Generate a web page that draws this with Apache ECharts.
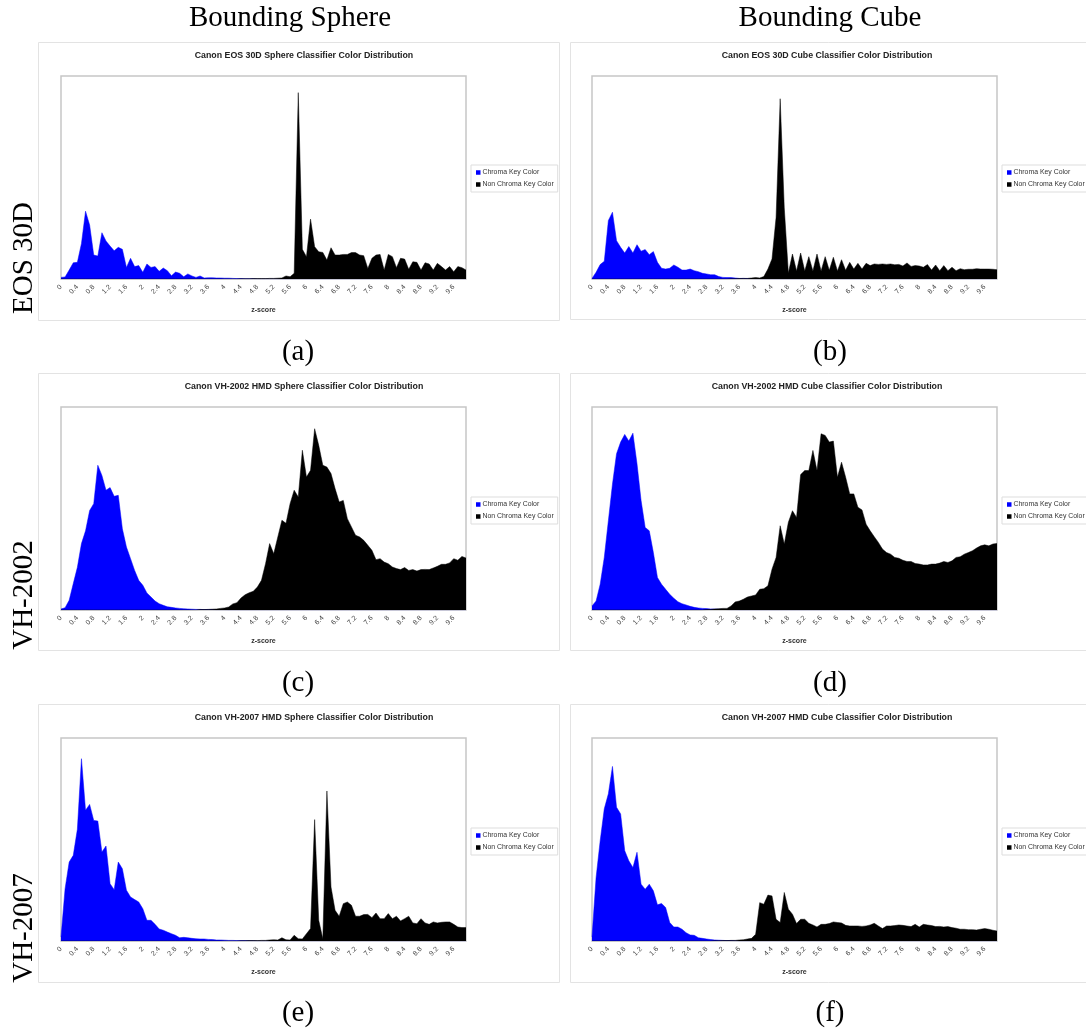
<!DOCTYPE html>
<html><head><meta charset="utf-8">
<script src="https://cdn.jsdelivr.net/npm/echarts@6/dist/echarts.min.js"></script>
<style>html,body{margin:0;padding:0;background:#fff}#c{width:1086px;height:1032px}</style>
</head><body><div id="c"></div>
<script>
const categories = [
'0','0.1','0.2','0.3','0.4','0.5','0.6','0.7','0.8','0.9',
'1','1.1','1.2','1.3','1.4','1.5','1.6','1.7','1.8','1.9',
'2','2.1','2.2','2.3','2.4','2.5','2.6','2.7','2.8','2.9',
'3','3.1','3.2','3.3','3.4','3.5','3.6','3.7','3.8','3.9',
'4','4.1','4.2','4.3','4.4','4.5','4.6','4.7','4.8','4.9',
'5','5.1','5.2','5.3','5.4','5.5','5.6','5.7','5.8','5.9',
'6','6.1','6.2','6.3','6.4','6.5','6.6','6.7','6.8','6.9',
'7','7.1','7.2','7.3','7.4','7.5','7.6','7.7','7.8','7.9',
'8','8.1','8.2','8.3','8.4','8.5','8.6','8.7','8.8','8.9',
'9','9.1','9.2','9.3','9.4','9.5','9.6','9.7','9.8','9.9'];
const tickLabels = ['0','0.4','0.8','1.2','1.6','2','2.4','2.8','3.2','3.6','4','4.4','4.8','5.2','5.6','6','6.4','6.8','7.2','7.6','8','8.4','8.8','9.2','9.6'];
const seriesNames = ['Chroma Key Color','Non Chroma Key Color'];
const panelTitles = [
'Canon EOS 30D Sphere Classifier Color Distribution',
'Canon EOS 30D Cube Classifier Color Distribution',
'Canon VH-2002 HMD Sphere Classifier Color Distribution',
'Canon VH-2002 HMD Cube Classifier Color Distribution',
'Canon VH-2007 HMD Sphere Classifier Color Distribution',
'Canon VH-2007 HMD Cube Classifier Color Distribution'];
const columnHeaders = ['Bounding Sphere','Bounding Cube'];
const rowLabels = ['EOS 30D','VH-2002','VH-2007'];
const captions = ['(a)','(b)','(c)','(d)','(e)','(f)'];
const axisName = 'z-score';

// values: share of plot height (%)
const eosSphereChroma = [
0.8,1,4.4,8,8.2,17.5,33.4,26.6,11.8,11.3,
22.8,18.7,16.2,13.9,15.6,14.6,5.7,10.2,6.1,6.6,
3.3,7.4,5.7,6.1,3.8,5.4,4.1,1.6,3.4,2.8,
1.1,2.5,1.5,0.8,1.5,0.5,0.6,0.6,0.5,0.5,
0.4,0.4,0.3,0.2,0.2,0.1,0.1,0.1,0,0,
0,0,0,0,0,0,0,0,0,0,
0,0,0,0,0,0,0,0,0,0,
0,0,0,0,0,0,0,0,0,0,
0,0,0,0,0,0,0,0,0,0,
0,0,0,0,0,0,0,0,0,0];
const eosSphereOther = [
0,0,0,0,0,0,0,0,0,0,
0,0,0,0,0,0,0,0,0,0,
0,0,0,0,0,0,0,0,0,0,
0,0,0,0,0,0,0,0,0,0,
0,0,0,0,0.1,0.1,0.1,0.2,0.2,0.2,
0.2,0.3,0.3,0.4,0.5,1.5,1.1,2.8,91.8,14.6,
11,29.5,15.9,13.4,13.1,9.3,15.4,11.8,11.8,12.1,
12.1,13,13,11.8,11.5,5.2,10.2,11.8,12.1,4.4,
12.1,11,5.6,10.2,9.8,4.8,8.5,8.2,4.4,8,
7.4,4.4,7.7,6.1,4.4,6.1,3.6,6.1,5.6,4.4];
const eosCubeChroma = [
0.3,3.3,7.1,8.7,28.8,32.9,18.9,15.6,12.8,16,
12.8,16.9,13.7,14.5,12,13.5,8.2,5.3,4.9,5.3,
6.9,5.8,4.4,4.4,4.9,4.1,3.6,2.8,2.5,2.1,
2.1,1.2,0.8,0.7,0.7,0.5,0.3,0.3,0.2,0.2,
0.1,0.1,0,0,0,0,0,0,0,0,
0,0,0,0,0,0,0,0,0,0,
0,0,0,0,0,0,0,0,0,0,
0,0,0,0,0,0,0,0,0,0,
0,0,0,0,0,0,0,0,0,0,
0,0,0,0,0,0,0,0,0,0];
const eosCubeOther = [
0,0,0,0,0,0,0,0,0,0,
0,0,0,0,0,0,0,0,0,0,
0,0,0,0,0,0,0,0,0,0,
0,0,0,0,0.1,0.1,0.2,0.3,0.3,0.5,
0.7,0.5,1.2,4.9,9.9,30.4,88.8,35,3,12.3,
4,12.8,4,11,4,12.3,4,11,4.3,10.7,
4,9.5,4.3,8.2,4.9,7.7,4.9,7.7,6.6,7.4,
7.2,7.4,7.2,7.4,7,7.2,6.4,7.9,6.2,6.6,
6.4,5.8,7.1,4.4,6.9,4.1,6.6,4.1,5.8,4.1,
5.1,4.6,4.8,4.8,5.1,4.9,4.9,4.9,4.8,4.6];
const vh2002SphereChroma = [
0.5,1.1,4.8,13,21,32.7,39,49,52.4,71.3,
66.3,59,60.3,56,56.5,40,31,25.3,19.5,14.6,
12.2,8.4,6.4,4.4,3.1,2.3,1.6,1.3,1,0.8,
0.6,0.5,0.4,0.3,0.3,0.2,0.2,0.2,0.1,0.1,
0.1,0,0,0,0,0,0,0,0,0,
0,0,0,0,0,0,0,0,0,0,
0,0,0,0,0,0,0,0,0,0,
0,0,0,0,0,0,0,0,0,0,
0,0,0,0,0,0,0,0,0,0,
0,0,0,0,0,0,0,0,0,0];
const vh2002SphereOther = [
0,0,0,0,0,0,0,0,0,0,
0,0,0,0,0,0,0,0,0,0,
0,0,0,0,0,0,0,0,0,0,
0,0,0,0,0.2,0.2,0.3,0.4,0.5,0.8,
1,1.5,3,3.6,5.9,7.5,8.5,9.2,11.3,14.6,
22.8,32.7,27.7,36,44.2,42.7,52.4,59,55.7,78.7,
65.5,68.8,89.3,81.1,71.3,70.4,67.2,59.8,53.2,54,
45,40.9,36.8,36,34.3,31.9,29.4,24.8,25.3,23.6,
22.8,21.2,20.4,19.9,20.9,19.5,19.9,19.2,19.9,20,
19.9,20.7,21.5,22.5,22.5,23.2,25.3,24.5,26.4,25.6];
const vh2002CubeChroma = [
2,4.4,12.7,25.9,44,62,77,82.7,86.5,83.2,
87.1,72,53.9,40.7,39,28.3,16,12.7,10.2,7.7,
5.8,4.1,3.1,2.5,1.8,1.3,1,0.8,0.7,0.5,
0.5,0.4,0.3,0.2,0.1,0.1,0,0,0,0,
0,0,0,0,0,0,0,0,0,0,
0,0,0,0,0,0,0,0,0,0,
0,0,0,0,0,0,0,0,0,0,
0,0,0,0,0,0,0,0,0,0,
0,0,0,0,0,0,0,0,0,0,
0,0,0,0,0,0,0,0,0,0];
const vh2002CubeOther = [
0,0,0,0,0,0,0,0,0,0,
0,0,0,0,0,0,0,0,0,0,
0,0,0,0,0,0,0,0,0.2,0.3,
0.5,0.6,0.8,0.8,2,4,4.4,5.3,6.4,6.9,
7.4,10.2,10.5,11.9,20.1,25.9,41.5,32.5,43.2,48.9,
45.6,66.7,68.7,68.7,78.6,68.7,86.8,86,82.7,83.2,
65.4,72.8,65.4,57.2,57.2,50.6,49.3,42.3,39,36.1,
33.3,30,28.3,27.5,25.9,25.5,24.5,23.9,23.9,22.9,
22.6,22.2,22.2,22.6,22.6,23.1,23.9,23.4,24.2,25.9,
26.2,27.5,28.3,29.2,30.5,31.6,32.1,31.6,32.5,32.8];
const vh2007SphereChroma = [
2,25.8,38.9,42.2,55,89.8,64.4,67.3,59.4,59.1,
43.8,46.8,28.2,25.3,38.9,35.6,25,21.7,20.4,19.2,
15.9,10.2,10.2,8.2,5.9,5.3,4.4,3.6,2.8,1.6,
1.8,1.6,1.3,1.1,1,1,0.8,0.7,0.5,0.5,
0.4,0.3,0.3,0.2,0.2,0.2,0.1,0.1,0,0,
0,0,0,0,0,0,0,0,0,0,
0,0,0,0,0,0,0,0,0,0,
0,0,0,0,0,0,0,0,0,0,
0,0,0,0,0,0,0,0,0,0,
0,0,0,0,0,0,0,0,0,0];
const vh2007SphereOther = [
0,0,0,0,0,0,0,0,0,0,
0,0,0,0,0,0,0,0,0,0,
0,0,0,0,0,0,0,0,0,0,
0,0,0,0,0,0,0,0,0,0,
0,0,0,0,0.1,0.1,0.2,0.2,0.2,0.3,
0.3,0.5,0.6,0.5,1.6,0.6,0.5,2.8,1.1,1,
3.6,6.1,59.8,10.2,1.1,73.9,26.6,15.1,12.2,18.4,
19.2,17.6,12.2,12.2,13,13.1,11.5,13.8,11,11,
13.5,11,12.2,9.9,11,12.2,8.9,8.5,11,8.9,
8.2,9.4,8.9,9.2,9.4,9.4,8.2,6.9,6.6,6.6];
const vh2007CubeChroma = [
2,31.3,49.4,65.1,72.5,86,65.9,62.6,44.5,39.5,
36.2,43.7,28,25.5,28,24.7,17.8,18.5,16.5,9.1,
6.9,6.9,5.8,4.1,3,2.8,1.6,1.3,1,0.7,
0.5,0.4,0.3,0.2,0.2,0.1,0,0,0,0,
0,0,0,0,0,0,0,0,0,0,
0,0,0,0,0,0,0,0,0,0,
0,0,0,0,0,0,0,0,0,0,
0,0,0,0,0,0,0,0,0,0,
0,0,0,0,0,0,0,0,0,0,
0,0,0,0,0,0,0,0,0,0];
const vh2007CubeOther = [
0,0,0,0,0,0,0,0,0,0,
0,0,0,0,0,0,0,0,0,0,
0,0,0,0,0,0,0,0,0,0,
0.1,0.1,0.2,0.2,0.3,0.3,0.5,0.6,1,1.3,
3.3,18.9,18.1,22.6,22.2,10.7,9.1,23.9,15.7,13.2,
8.6,10.7,10.7,8.7,7.9,6.9,8.2,8.2,8.6,9.4,
9.1,8.9,7.7,7.4,7.4,7.4,7.2,7.4,7.9,8.7,
7.4,6.1,7.4,7.4,7.6,7.9,7.7,7.4,7.1,8.2,
6.9,8.2,7.9,7.6,7.1,7.2,6.9,7.1,6.6,6.3,
5.8,5.8,5.6,5.6,5.4,5.8,6.1,5.8,5.3,4.9];

const panelSeries = [
  [eosSphereChroma, eosSphereOther],
  [eosCubeChroma, eosCubeOther],
  [vh2002SphereChroma, vh2002SphereOther],
  [vh2002CubeChroma, vh2002CubeOther],
  [vh2007SphereChroma, vh2007SphereOther],
  [vh2007CubeChroma, vh2007CubeOther]
];
const seriesColors = ['#0000ff', '#000000'];

// layout
const colPlotLeft = [61, 592];
const rowPlotTop = [76, 407, 738];
const colCenter = [298, 830];
const headerCenter = [290, 830];
const titleCenters = [[304,56],[827,56],[304,387],[827,387],[314,718],[837,718]];
const frames = [[38.5,42.5,521,278],[570.5,42.5,530,277],[38.5,373.5,521,277],[570.5,373.5,530,277],[38.5,704.5,521,278],[570.5,704.5,530,278]];
const legendLeft = [471, 1002];
const legendTop = [165, 497, 828];
const rowLabelY = [258, 595, 928];
const captionY = [352, 683, 1013];

const SANS = '"Liberation Sans", Arial, sans-serif';
const SERIF = '"Liberation Serif", "Times New Roman", serif';

const grid = [], xAxis = [], yAxis = [], series = [], legend = [], graphic = [];
for (let p = 0; p < 6; p++) {
  const col = p % 2, row = Math.floor(p / 2);
  const f = frames[p];
  graphic.push({type:'rect', shape:{x:f[0], y:f[1], width:f[2], height:f[3]}, style:{fill:'none', stroke:'#e3e3e3', lineWidth:1}, z:-10});
  graphic.push({type:'text', x:titleCenters[p][0], y:titleCenters[p][1], style:{text:panelTitles[p], fill:'#222', font:'bold 8.8px ' + SANS, textAlign:'center', textVerticalAlign:'middle'}});
  graphic.push({type:'text', x:colCenter[col], y:captionY[row], style:{text:captions[p], fill:'#000', font:'29px ' + SERIF, textAlign:'center', textVerticalAlign:'middle'}});
  grid.push({left:colPlotLeft[col], top:rowPlotTop[row], width:405, height:203, show:true, borderColor:'#c6c6c6', borderWidth:1.5, backgroundColor:'#fff'});
  xAxis.push({
    type:'category', gridIndex:p, data:categories, boundaryGap:false,
    axisLine:{show:false}, axisTick:{show:false}, splitLine:{show:false},
    axisLabel:{rotate:45, fontSize:7, color:'#444', fontFamily:SANS, margin:7,
      interval:(i, v) => tickLabels.indexOf(v) >= 0},
    name:axisName, nameLocation:'middle', nameGap:28,
    nameTextStyle:{fontSize:7, fontWeight:'bold', color:'#333', fontFamily:SANS}
  });
  yAxis.push({type:'value', gridIndex:p, min:0, max:100, show:false});
  for (let s = 0; s < 2; s++) {
    series.push({
      type:'line', name:seriesNames[s], xAxisIndex:p, yAxisIndex:p,
      data:panelSeries[p][s], showSymbol:false, symbol:'none', smooth:false,
      lineStyle:{width:0.5, color:seriesColors[s]}, itemStyle:{color:seriesColors[s]},
      areaStyle:{color:seriesColors[s], opacity:1}, z:2 + s, animation:false
    });
  }
  legend.push({
    data:seriesNames, orient:'vertical', left:legendLeft[col], top:legendTop[row],
    icon:'rect', itemWidth:4.5, itemHeight:4.5, itemGap:5,
    borderColor:'#dddddd', borderWidth:1, padding:[4, 4, 4, 5], backgroundColor:'#fff',
    textStyle:{fontSize:6.9, color:'#333', fontFamily:SANS, padding:[0,0,0,-3]},
    selectedMode:false
  });
}
for (let c = 0; c < 2; c++) {
  graphic.push({type:'text', x:headerCenter[c], y:18, style:{text:columnHeaders[c], fill:'#000', font:'29px ' + SERIF, textAlign:'center', textVerticalAlign:'middle'}});
}
for (let r = 0; r < 3; r++) {
  graphic.push({type:'text', x:24, y:rowLabelY[r], rotation:Math.PI/2, style:{text:rowLabels[r], fill:'#000', font:'29px ' + SERIF, textAlign:'center', textVerticalAlign:'middle'}});
}

const chart = echarts.init(document.getElementById('c'), null, {renderer:'canvas'});
chart.setOption({animation:false, backgroundColor:'#fff', grid, xAxis, yAxis, series, legend, graphic});
</script></body></html>
